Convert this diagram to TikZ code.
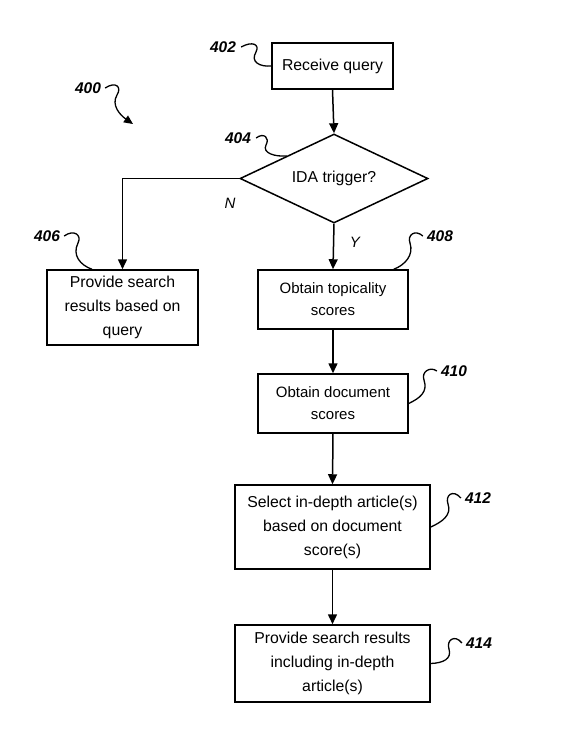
\documentclass[tikz,border=0pt]{standalone}
\usepackage{fontspec}
\setmainfont{Liberation Sans}
\usetikzlibrary{shapes.geometric,arrows.meta,calc}
\begin{document}
\begin{tikzpicture}[x=1pt,y=-1pt,
  every node/.style={inner sep=0pt},
  stepbox/.style={draw,line width=1.5pt,align=center,font=\fontsize{15.8}{24}\selectfont},
  smallbox/.style={stepbox,font=\fontsize{15}{22}\selectfont},
  reflabel/.style={font=\fontsize{15.5}{18}\selectfont\bfseries\itshape},
  branch/.style={font=\fontsize{15}{18}\selectfont\itshape},
  flow/.style={line width=1.5pt,-{Triangle[length=10pt,width=9pt]}},
  leader/.style={line width=1.3pt}]
\useasboundingbox (0,0) rectangle (566,756);
% boxes
\node[stepbox,minimum width=121pt,minimum height=46pt] (q) at (332.5,66) {Receive query};
\node[draw,line width=1.5pt,diamond,aspect=2.1,minimum width=188pt,minimum height=89pt,font=\fontsize{15.8}{24}\selectfont] (d) at (334,178.5) {IDA trigger?};
\node[stepbox,minimum width=151pt,minimum height=75pt] (b406) at (122.5,307.5) {Provide search\\results based on\\query};
\node[smallbox,minimum width=150pt,minimum height=59pt] (b408) at (333,299.5) {Obtain topicality\\scores};
\node[smallbox,minimum width=150pt,minimum height=59pt] (b410) at (333,403.5) {Obtain document\\scores};
\node[stepbox,minimum width=195pt,minimum height=84pt] (b412) at (332.5,527) {Select in-depth article(s)\\based on document\\score(s)};
\node[stepbox,minimum width=195pt,minimum height=77pt] (b414) at (332.5,663.5) {Provide search results\\including in-depth\\article(s)};
% flow
\draw[flow] (q.south) -- (d.north);
\draw[flow] (d.west) -| (b406.north);
\draw[flow] (d.south) -- (b408.north);
\draw[flow] (b408.south) -- (b410.north);
\draw[flow] (b410.south) -- (b412.north);
\draw[flow] (b412.south) -- (b414.north);
% branch labels
\node[branch] (lN) at (230,203) {N};
\node[branch] (lY) at (355,242) {Y};
% reference labels
\node[reflabel] (l400) at (88,88) {400};
\node[reflabel] (l402) at (223,47) {402};
\node[reflabel] (l404) at (238,138) {404};
\node[reflabel] (l406) at (47,236) {406};
\node[reflabel] (l408) at (440,236) {408};
\node[reflabel] (l410) at (454,371) {410};
\node[reflabel] (l412) at (478,498) {412};
\node[reflabel] (l414) at (479,643) {414};
% leaders
\coordinate (e406) at ($(b406.north)+(-30.5,0)$);
\coordinate (e408) at ($(b408.north east)+(-15,0)$);
\draw[leader,-{Triangle[length=9pt,width=8pt]}] ($(l400.east)+(4,0)$) .. controls (116,81) and (122,87) .. (117,95) .. controls (111,105) and (120,115) .. (133,124);
\draw[leader] ($(l402.east)+(5,0)$) .. controls (252,41) and (260,44) .. (256,52) .. controls (250,62) and (260,67) .. (q.west);
\draw[leader] ($(l404.east)+(5,0)$) .. controls (264,132) and (270,138) .. (266,145) .. controls (262,153) and (275,157) .. (d.north west);
\draw[leader] ($(l406.east)+(4,0)$) .. controls (74,229) and (82,235) .. (78,243) .. controls (72,255) and (80,265) .. (e406);
\draw[leader] ($(l408.west)+(-4,0)$) .. controls (415,229) and (407,235) .. (410,243) .. controls (414,255) and (405,265) .. (e408);
\draw[leader] ($(l410.west)+(-4,0)$) .. controls (430,366) and (421,372) .. (424,380) .. controls (428,392) and (420,398) .. (b410.east);
\draw[leader] ($(l412.west)+(-4,0)$) .. controls (453,489) and (445,495) .. (448,504) .. controls (452,515) and (442,522) .. (b412.east);
\draw[leader] ($(l414.west)+(-4,0)$) .. controls (455,634) and (446,640) .. (449,649) .. controls (452,659) and (443,663) .. (b414.east);
\end{tikzpicture}
\end{document}
